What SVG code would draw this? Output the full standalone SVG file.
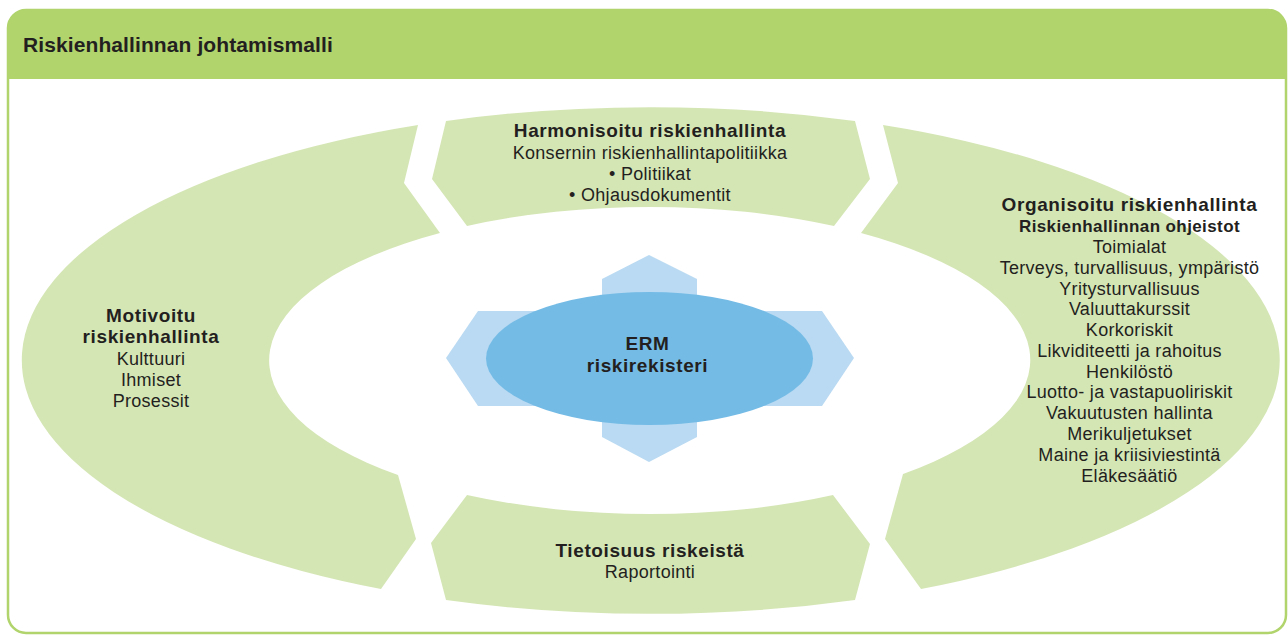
<svg xmlns="http://www.w3.org/2000/svg" width="1288" height="635" viewBox="0 0 1288 635">
  <style>
    text { font-family: "Liberation Sans", Arial, sans-serif; fill: #231f20; text-anchor: middle; }
    .title { font-size: 21px; font-weight: bold; text-anchor: start; letter-spacing: 0.1px; }
    .h { font-size: 19px; font-weight: bold; letter-spacing: 0.6px; }
    .sub { font-size: 17px; font-weight: bold; letter-spacing: 0.4px; }
    .t { font-size: 18px; letter-spacing: 0.3px; }
    .seg { fill: #d5e6b5; }
    .hex { fill: #b9daf2; }
    .core { fill: #74bbe6; }
  </style>

  <g id="frame">
    <rect x="8" y="10" width="1278" height="623" rx="18" ry="18" fill="#ffffff" stroke="#b1d46d" stroke-width="2.5"/>
    <path d="M 8 79 L 8 28 A 18 18 0 0 1 26 10 L 1268 10 A 18 18 0 0 1 1286 28 L 1286 79 Z" fill="#b1d46d"/>
    <text class="title" x="23" y="52">Riskienhallinnan johtamismalli</text>
  </g>

  <g id="seg-top">
    <path class="seg" d="M 446 121 A 627 253 0 0 1 855 121 L 870 179 L 834 226 A 379 152.5 0 0 0 467 226 L 432 179 Z"/>
    <text class="h" x="650" y="137">Harmonisoitu riskienhallinta</text>
    <text class="t" x="650" y="159">Konsernin riskienhallintapolitiikka</text>
    <text class="t" x="650" y="180">• Politiikat</text>
    <text class="t" x="650" y="201">• Ohjausdokumentit</text>
  </g>

  <g id="seg-left">
    <path class="seg" d="M 418 125 A 627 253 0 0 0 381 589 L 416 539 L 398 475 A 379 152.5 0 0 1 440 233 L 404 183 Z"/>
    <text class="h" x="151" y="322">Motivoitu</text>
    <text class="h" x="151" y="343">riskienhallinta</text>
    <text class="t" x="151" y="365">Kulttuuri</text>
    <text class="t" x="151" y="386">Ihmiset</text>
    <text class="t" x="151" y="407">Prosessit</text>
  </g>

  <g id="seg-right">
    <path class="seg" d="M 883 125 A 627 253 0 0 1 921 589 L 885 539 L 903 474 A 379 152.5 0 0 0 861 233 L 898 183 Z"/>
    <text class="h" x="1129.5" y="211">Organisoitu riskienhallinta</text>
    <text class="sub" x="1129.5" y="232">Riskienhallinnan ohjeistot</text>
    <text class="t" x="1129.5" y="253">Toimialat</text>
    <text class="t" x="1129.5" y="274">Terveys, turvallisuus, ympäristö</text>
    <text class="t" x="1129.5" y="294.5">Yritysturvallisuus</text>
    <text class="t" x="1129.5" y="315">Valuuttakurssit</text>
    <text class="t" x="1129.5" y="336">Korkoriskit</text>
    <text class="t" x="1129.5" y="357">Likviditeetti ja rahoitus</text>
    <text class="t" x="1129.5" y="377.5">Henkilöstö</text>
    <text class="t" x="1129.5" y="398">Luotto- ja vastapuoliriskit</text>
    <text class="t" x="1129.5" y="419">Vakuutusten hallinta</text>
    <text class="t" x="1129.5" y="440">Merikuljetukset</text>
    <text class="t" x="1129.5" y="461">Maine ja kriisiviestintä</text>
    <text class="t" x="1129.5" y="482">Eläkesäätiö</text>
  </g>

  <g id="seg-bottom">
    <path class="seg" d="M 467 495 A 379 152.5 0 0 0 833 495 L 870 544 L 855 600 A 627 253 0 0 1 446 600 L 431 543 Z"/>
    <text class="h" x="650" y="557">Tietoisuus riskeistä</text>
    <text class="t" x="650" y="578">Raportointi</text>
  </g>

  <g id="erm">
    <polygon class="hex" points="649,255 697,279 697,437 649,462 602,437 602,279"/>
    <polygon class="hex" points="446,358 478,311 822,311 854,358 822,406 478,406"/>
    <ellipse class="core" cx="649.5" cy="358.5" rx="163.5" ry="66.5"/>
    <text class="h" x="647.5" y="350">ERM</text>
    <text class="h" x="647.5" y="372">riskirekisteri</text>
  </g>

  <g id="connectors"/>
</svg>
